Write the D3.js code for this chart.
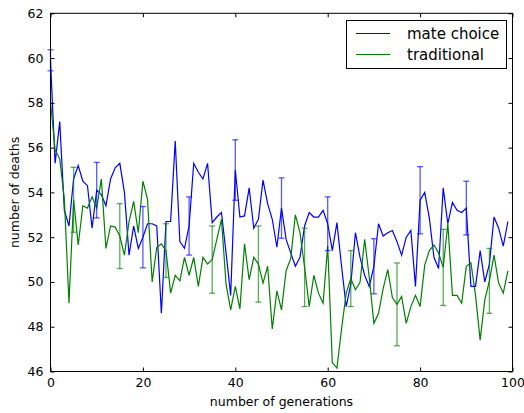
<!DOCTYPE html>
<html><head><meta charset="utf-8">
<script src="https://cdn.jsdelivr.net/npm/d3@7"></script>
<style>body{margin:0;background:#fff}svg{display:block}text{font-family:"DejaVu Sans",sans-serif;fill:#000}</style>
</head><body><svg id="c" width="524" height="413"></svg>
<script>
const generations = d3.range(100);
const mateChoice = [59.9,55.3,57.16,53.2,52.5,54.6,55.2,54.5,54.3,52.4,
54.1,53.9,53.4,54.6,55.1,55.3,54.0,51.2,52.5,51.5,
52.0,52.6,52.6,52.5,48.6,52.7,52.7,56.3,51.8,51.5,
52.5,55.3,54.9,54.6,55.3,52.65,52.9,53.1,51.3,49.4,
55.0,52.9,52.95,54.2,52.4,52.8,54.55,53.5,52.8,51.55,
53.3,51.9,51.3,50.7,51.1,52.5,53.1,52.9,52.9,53.2,
52.6,51.4,52.65,50.7,48.9,49.9,52.2,51.1,50.3,49.8,
50.7,52.6,52.05,52.2,52.3,51.8,51.2,52.0,52.3,49.8,
53.65,54.0,52.85,51.1,50.6,54.2,52.6,53.55,53.2,53.1,
53.3,49.8,49.8,51.4,50.0,50.8,52.9,52.4,51.6,52.7];
const traditional = [58.05,55.9,55.5,53.7,49.05,53.67,51.65,53.4,53.3,53.8,
53.3,54.6,51.5,52.5,52.45,52.05,51.2,52.7,53.6,52.2,
54.5,53.7,50.0,51.55,51.7,51.4,49.5,50.3,50.05,51.1,
50.3,51.1,49.8,51.1,50.8,51.0,51.9,52.8,49.9,48.75,
49.8,48.8,51.7,50.1,51.1,50.8,49.95,50.7,47.9,49.6,
48.75,50.5,51.05,53.0,52.2,50.65,48.9,50.3,49.5,49.05,
51.6,46.4,46.15,47.9,49.5,50.15,49.65,49.98,51.9,50.2,
48.15,48.6,49.7,50.55,49.3,49.0,49.35,48.15,48.9,49.4,
48.9,50.75,51.4,51.65,51.3,50.65,52.6,49.4,49.4,49.05,
50.7,50.85,49.4,47.4,49.2,50.05,51.2,49.95,49.5,50.5];
const mateErrGen = [0,10,20,30,40,50,60,70,80,90];
const mateErr = [0.47,1.24,1.37,1.3,1.35,1.35,1.2,1.23,1.5,1.2];
const tradErrGen = [5,15,25,35,45,55,65,75,85,95];
const tradErr = [1.45,1.45,1.2,1.5,1.7,1.75,1.25,1.85,1.7,1.45];
const xTicks = [0,20,40,60,80,100];
const yTicks = [46,48,50,52,54,56,58,60,62];
const seriesNames = ["mate choice","traditional"];
const colors = ["#0000ff","#008000"];

const svg = d3.select("#c");
const L=50.5,R=512.5,T=13.3,B=371.5;
const x = d3.scaleLinear().domain([0,100]).range([L,R]);
const y = d3.scaleLinear().domain([46,62]).range([B,T]);

const series = [mateChoice, traditional];
const line = d3.line().x((d,i)=>x(generations[i])).y(d=>y(d));
series.forEach((s,k)=>{
  svg.append("path").datum(s).attr("d",line).attr("fill","none")
    .attr("stroke",colors[k]).attr("stroke-width",1.2);
});
const errs = [[mateErrGen,mateErr,mateChoice],[tradErrGen,tradErr,traditional]];
errs.forEach(([gs,es,s],k)=>{
  const g = svg.append("g").attr("stroke",colors[k]).attr("stroke-opacity",0.65).attr("stroke-width",1.3);
  gs.forEach((gen,i)=>{
    const cx = x(gen), v = s[gen], e = es[i];
    const y1 = y(v+e), y2 = y(v-e);
    g.append("line").attr("x1",cx).attr("x2",cx).attr("y1",y1).attr("y2",y2);
    g.append("line").attr("x1",cx-3).attr("x2",cx+3).attr("y1",y1).attr("y2",y1);
    g.append("line").attr("x1",cx-3).attr("x2",cx+3).attr("y1",y2).attr("y2",y2);
  });
});

// frame
svg.append("rect").attr("x",L).attr("y",T).attr("width",R-L).attr("height",B-T)
  .attr("fill","none").attr("stroke","#000").attr("stroke-width",1);

// axes with inward ticks on all sides
const tk = 4;
svg.append("g").attr("transform",`translate(0,${B})`)
  .call(d3.axisBottom(x).tickValues(xTicks).tickSize(-tk).tickPadding(7).tickFormat(d3.format("d")))
  .call(g=>g.select(".domain").remove());
svg.append("g").attr("transform",`translate(0,${T})`)
  .call(d3.axisTop(x).tickValues(xTicks).tickSize(-tk).tickFormat(""))
  .call(g=>g.select(".domain").remove());
svg.append("g").attr("transform",`translate(${L},0)`)
  .call(d3.axisLeft(y).tickValues(yTicks).tickSize(-tk).tickPadding(7).tickFormat(d3.format("d")))
  .call(g=>g.select(".domain").remove());
svg.append("g").attr("transform",`translate(${R},0)`)
  .call(d3.axisRight(y).tickValues(yTicks).tickSize(-tk).tickFormat(""))
  .call(g=>g.select(".domain").remove());
svg.selectAll(".tick text").attr("font-size",12.5).attr("font-family","DejaVu Sans").attr("fill","#000");
svg.selectAll(".tick line").attr("stroke","#000");

svg.append("text").attr("x",(L+R)/2).attr("y",406).attr("text-anchor","middle")
  .attr("font-size",12.5).text("number of generations");
svg.append("text").attr("transform",`translate(19,${(T+B)/2}) rotate(-90)`).attr("text-anchor","middle")
  .attr("font-size",12.5).text("number of deaths");

// legend
const lg = svg.append("g");
lg.append("rect").attr("x",346.5).attr("y",20.5).attr("width",160).attr("height",48)
  .attr("fill","#fff").attr("stroke","#000").attr("stroke-width",1);
seriesNames.forEach((n,k)=>{
  const yy = 33.5 + k*21;
  lg.append("line").attr("x1",356).attr("x2",390).attr("y1",yy).attr("y2",yy)
    .attr("stroke",colors[k]).attr("stroke-width",1.2);
  lg.append("text").attr("x",407).attr("y",yy+5).attr("font-size",15).text(n);
});
</script></body></html>
